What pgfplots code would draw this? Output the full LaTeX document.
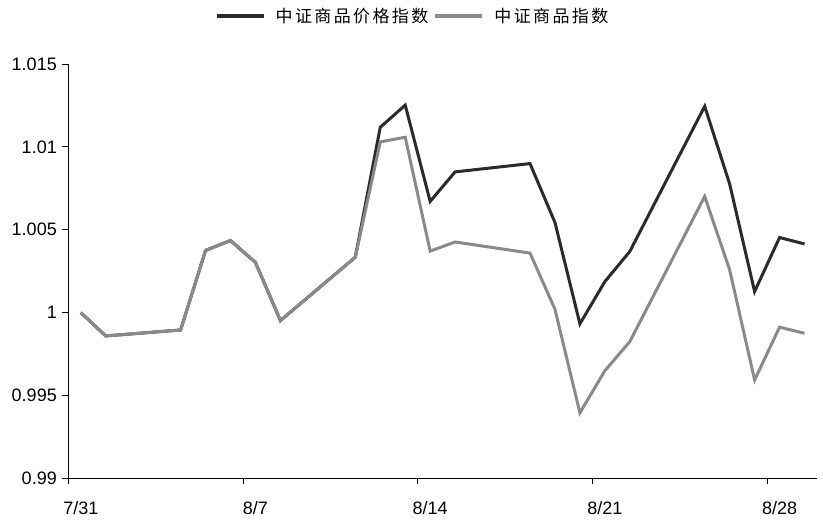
\documentclass[border=0pt]{standalone}
\usepackage{pgfplots}
\pgfplotsset{compat=1.18}
\usepackage{fontspec}
\setmainfont{Liberation Sans}
\newfontfamily\cjk[LetterSpace=14]{Noto Sans CJK SC}
\definecolor{darkline}{HTML}{2B2B2B}
\definecolor{grayline}{HTML}{8A8A8A}

% x = trading day index from 7/31 (+0.5, points sit in the middle of each day slot)
\pgfplotstableread{
x     price    index
0.5   1.00000  1.00000
1.5   0.99859  0.99859
4.5   0.99895  0.99895
5.5   1.00375  1.00375
6.5   1.00435  1.00435
7.5   1.00302  1.00302
8.5   0.99952  0.99952
11.5  1.00334  1.00334
12.5  1.01118  1.01030
13.5  1.01252  1.01058
14.5  1.00671  1.00371
15.5  1.00849  1.00426
18.5  1.00899  1.00359
19.5  1.00544  1.00020
20.5  0.99932  0.99395
21.5  1.00187  0.99649
22.5  1.00369  0.99825
25.5  1.01245  1.00701
26.5  1.00776  1.00258
27.5  1.00127  0.99593
28.5  1.00453  0.99912
29.5  1.00414  0.99875
}\datatable

\begin{document}
\begin{tikzpicture}
\useasboundingbox (-68.3bp,-42.7bp) rectangle (754.7bp,478.3bp);
\begin{axis}[
    at={(0,0)}, anchor=origin,
    scale only axis,
    width=748.7bp, height=414.3bp,
    xmin=0, xmax=30,
    ymin=0.99, ymax=1.015,
    axis x line*=bottom,
    axis y line*=left,
    axis line style={black, line width=0.8bp, -},
    tick align=outside,
    major tick length=6bp,
    tick style={black, line width=0.8bp},
    xtick={0,7,14,21,28},
    xticklabels={7/31,8/7,8/14,8/21,8/28},
    ytick={0.99,0.995,1,1.005,1.01,1.015},
    yticklabels={0.99,0.995,1,1.005,1.01,1.015},
    ticklabel style={font=\fontsize{18bp}{20bp}\selectfont, black},
    xticklabel style={xshift=12.5bp, yshift=-14bp},
    yticklabel style={xshift=-2bp},
    legend columns=2,
    legend style={
        at={(0.4584,1.1159)}, anchor=center,
        draw=none, fill=none,
        column sep=0pt,
        nodes={inner sep=0pt, font=\cjk\fontsize{17bp}{19bp}\selectfont},
    },
    legend image code/.code={
        \draw[#1, line width=4bp] (0bp,0bp) -- (47bp,0bp);
    },
]
\addplot[darkline, line width=3bp, miter limit=4] table[x=x, y=price] {\datatable};
\addplot[grayline, line width=3bp, miter limit=4] table[x=x, y=index] {\datatable};
\legend{\hspace*{10bp}中证商品价格指数\hspace*{5bp}, \hspace*{10bp}中证商品指数}
\end{axis}
\end{tikzpicture}
\end{document}
